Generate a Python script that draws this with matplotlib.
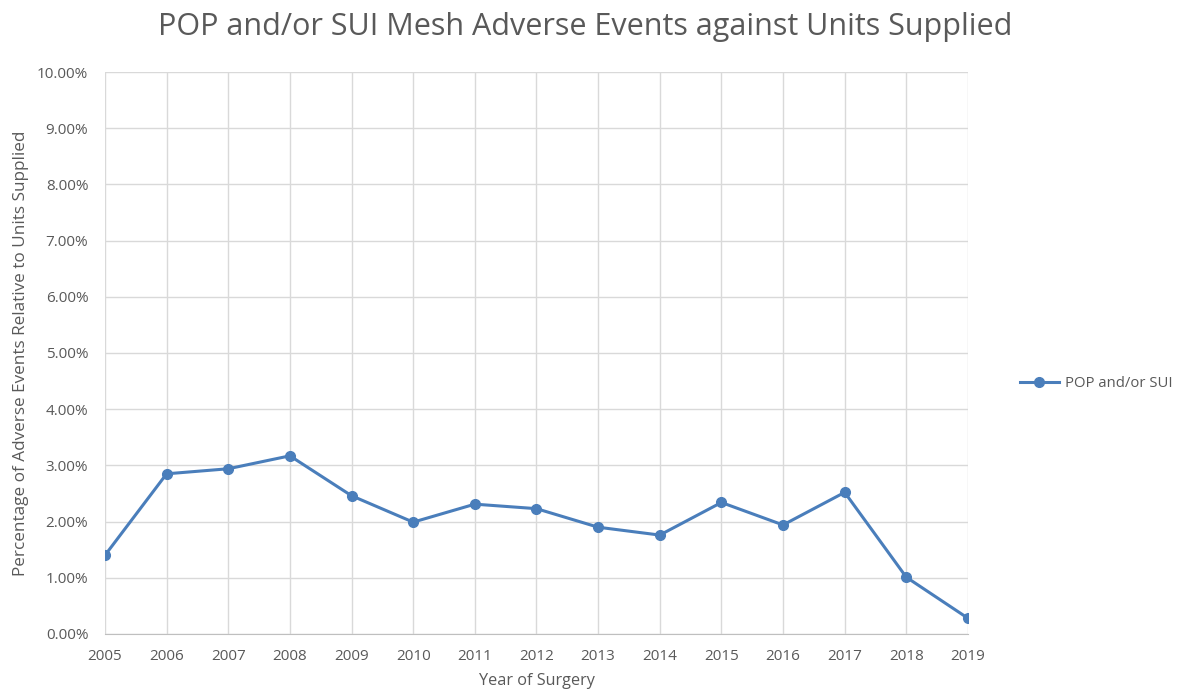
import matplotlib.pyplot as plt
from matplotlib.ticker import PercentFormatter

# data (percent)
years = [2005, 2006, 2007, 2008, 2009, 2010, 2011, 2012,
         2013, 2014, 2015, 2016, 2017, 2018, 2019]
pct = [1.40, 2.85, 2.94, 3.17, 2.46, 1.99, 2.31, 2.23,
       1.90, 1.76, 2.34, 1.94, 2.52, 1.01, 0.28]

TXT = '#595959'
BLUE = '#4a7ebb'

plt.rcParams['font.family'] = ['Open Sans', 'DejaVu Sans']

fig = plt.figure(figsize=(11.78, 6.95), dpi=100)
ax = fig.add_axes([0.0891, 0.0878, 0.7326, 0.8086])

ax.plot(years, pct, color=BLUE, linewidth=2.2, marker='o', markersize=7,
        label='POP and/or SUI', zorder=3)

ax.set_xlim(2005, 2019)
ax.set_ylim(0, 10)
ax.set_xticks(years)
ax.set_yticks(range(0, 11))
ax.yaxis.set_major_formatter(PercentFormatter(decimals=2))

ax.grid(True, color='#d9d9d9', linewidth=1)
ax.set_axisbelow(True)
for s in ['top', 'right', 'left']:
    ax.spines[s].set_visible(False)
ax.spines['bottom'].set_color('#bfbfbf')
ax.tick_params(axis='both', length=0, colors=TXT, labelsize=11)
ax.tick_params(axis='x', pad=11)
ax.tick_params(axis='y', pad=12)

ax.set_xlabel('Year of Surgery', color=TXT, fontsize=11.7, labelpad=6)
ax.set_ylabel('Percentage of Adverse Events Relative to Units Supplied',
              color=TXT, fontsize=12.3, labelpad=6)

fig.suptitle('POP and/or SUI Mesh Adverse Events against Units Supplied',
             x=0.497, y=0.983, color=TXT, fontsize=22)

ax.legend(loc='center left', bbox_to_anchor=(1.045, 0.445), frameon=False,
          fontsize=10.7, labelcolor=TXT, handlelength=2.6, handletextpad=0.4)

fig.savefig('out.png', dpi=100)
